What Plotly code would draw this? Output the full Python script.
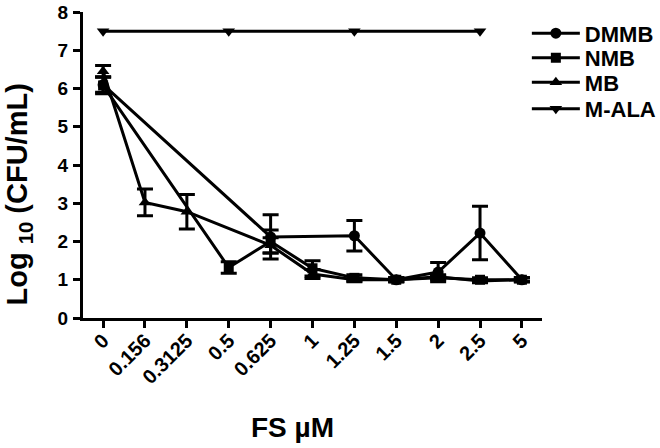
import plotly.graph_objects as go

# FS concentrations (µM), shown as evenly spaced categories
doses = ["0", "0.156", "0.3125", "0.5", "0.625", "1", "1.25", "1.5", "2", "2.5", "5"]
y_ticks = [0, 1, 2, 3, 4, 5, 6, 7, 8]

dmmb_x = ["0", "0.625", "1.25", "1.5", "2", "2.5", "5"]
dmmb_y = [6.1, 2.12, 2.15, 1.0, 1.2, 2.22, 1.0]
dmmb_err = [0.2, 0.58, 0.4, 0.05, 0.25, 0.7, 0.05]

nmb_x = ["0", "0.5", "0.625", "1", "1.25", "1.5", "2", "2.5", "5"]
nmb_y = [6.08, 1.32, 2.0, 1.3, 1.05, 1.0, 1.05, 1.0, 1.0]
nmb_err = [0.22, 0.15, 0.3, 0.2, 0.08, 0.05, 0.05, 0.05, 0.05]

mb_x = ["0", "0.156", "0.3125", "0.625", "1", "1.25", "1.5", "2", "2.5", "5"]
mb_y = [6.45, 3.02, 2.78, 1.9, 1.15, 1.0, 1.0, 1.08, 0.97, 1.0]
mb_err = [0.15, 0.35, 0.45, 0.2, 0.12, 0.05, 0.05, 0.05, 0.05, 0.05]

mala_x = ["0", "0.5", "1.25", "2.5"]
mala_y = [7.5, 7.5, 7.5, 7.5]

FONT = "Liberation Sans, Arial, sans-serif"

fig = go.Figure()

series = [
    ("DMMB", dmmb_x, dmmb_y, dmmb_err, "circle", 11),
    ("NMB", nmb_x, nmb_y, nmb_err, "square", 10),
    ("MB", mb_x, mb_y, mb_err, "triangle-up", 11),
    ("M-ALA", mala_x, mala_y, None, "triangle-down", 11),
]
legend_ids = ["legend", "legend2", "legend3", "legend4"]
legend_y = [0.930, 0.850, 0.770, 0.683]

for (name, xs, ys, err, sym, size), lid in zip(series, legend_ids):
    fig.add_trace(go.Scatter(
        x=xs, y=ys, name=name, mode="lines+markers",
        line=dict(color="black", width=3),
        marker=dict(symbol=sym, size=size, color="black"),
        error_y=dict(type="data", array=err, visible=err is not None,
                     color="black", thickness=3, width=8),
        cliponaxis=False, legend=lid,
    ))

leg_style = dict(x=0.967, xanchor="left", yanchor="middle", itemwidth=48,
                 font=dict(size=22, family=FONT, color="black", weight="bold"),
                 bgcolor="rgba(0,0,0,0)", borderwidth=0)
fig.update_layout(
    width=660, height=448,
    margin=dict(l=83, r=118, t=12, b=130, autoexpand=False),
    paper_bgcolor="white", plot_bgcolor="white",
    font=dict(family=FONT, color="black"),
    showlegend=True,
    legend=dict(y=legend_y[0], **leg_style),
    legend2=dict(y=legend_y[1], **leg_style),
    legend3=dict(y=legend_y[2], **leg_style),
    legend4=dict(y=legend_y[3], **leg_style),
)

fig.update_xaxes(
    type="category", categoryorder="array", categoryarray=doses,
    tickvals=doses, ticktext=[f"<b>{d}</b>" for d in doses],
    range=[-0.48, 10.48], automargin=False,
    showline=True, linecolor="black", linewidth=3,
    ticks="outside", ticklen=7, tickwidth=3, tickcolor="black",
    tickangle=-45, tickfont=dict(size=20, family=FONT, weight="bold"),
    ticklabelstandoff=-7,
    showgrid=False, zeroline=False,
)

fig.update_yaxes(
    range=[0, 8], automargin=False,
    tickvals=y_ticks, ticktext=[f"<b>{v}</b>" for v in y_ticks],
    showline=True, linecolor="black", linewidth=3,
    ticks="outside", ticklen=7, tickwidth=3, tickcolor="black",
    tickfont=dict(size=19, family=FONT, weight="bold"),
    ticklabelstandoff=1,
    showgrid=False, zeroline=False,
)

# axis titles placed where the reference has them
fig.add_annotation(text="<b>FS µM</b>", xref="paper", yref="paper",
                   x=0.457, y=-0.359, xanchor="center", yanchor="middle",
                   showarrow=False,
                   font=dict(size=28, family=FONT, color="black"))
fig.add_annotation(text="<b>Log <sub>10</sub> (CFU/mL)</b>", xref="paper", yref="paper",
                   x=-0.1405, y=0.402, xanchor="center", yanchor="middle",
                   textangle=-90, showarrow=False,
                   font=dict(size=29, family=FONT, color="black"))

# the page body has a default 8px margin; drop it so the figure sits at (0, 0)
fig.write_html("out.html", config={"displayModeBar": False},
               post_script="document.body.style.margin='0';")
